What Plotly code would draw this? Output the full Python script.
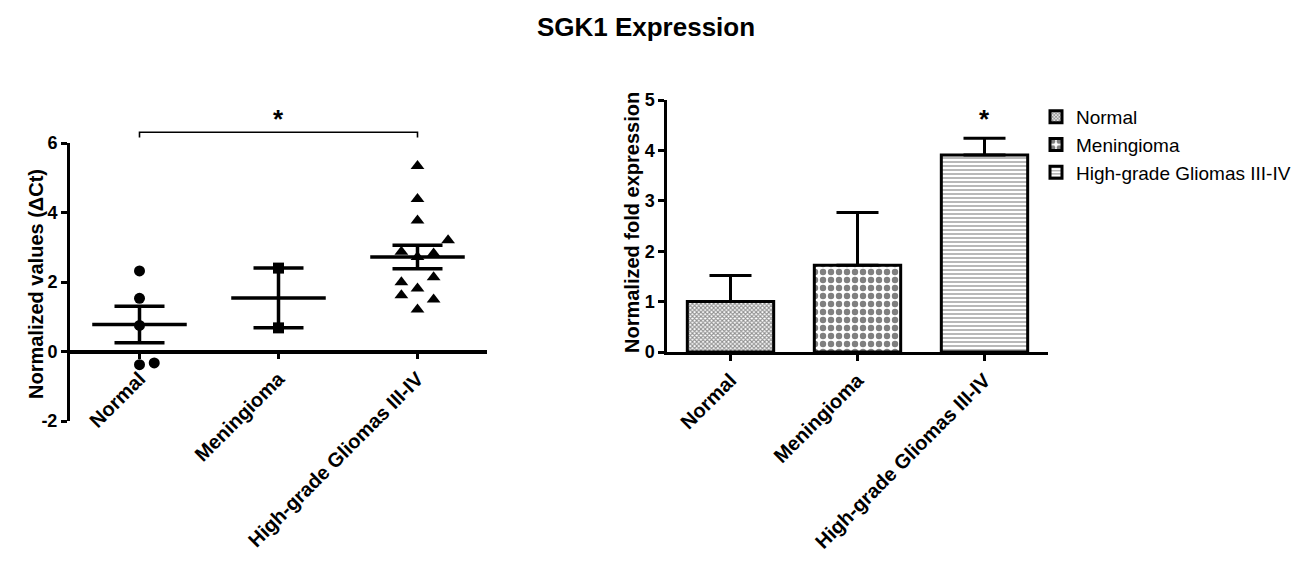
import numpy as np
import plotly.graph_objects as go

# ---------------- data ----------------
categories = ["Normal", "Meningioma", "High-grade Gliomas III-IV"]

# left panel: individual normalized ΔCt values per sample
normal_dct = [2.32, 1.53, 0.75, -0.38, -0.33]
meningioma_dct = [2.40, 0.68]
glioma_dct = [5.34, 4.39, 3.77, 3.20, 2.87, 2.82, 2.72, 2.14, 1.99, 1.81, 1.62, 1.50, 1.21]

# right panel: normalized fold expression (mean, upper error)
fold_mean = [1.00, 1.72, 3.91]
fold_err = [0.52, 1.05, 0.33]

y_ticks_left = [-2, 0, 2, 4, 6]
y_ticks_right = [0, 1, 2, 3, 4, 5]

# ---------------- layout helpers (positions / styles) ----------------
normal_jit = [0, 0, 0, 0, 0.106]
meningioma_jit = [0, 0]
glioma_jit = [0, 0, 0, 0.22, -0.116, 0.116, 0, 0.116, -0.116, 0, -0.116, 0.116, 0]

WIN_W, WIN_H = 1311, 563
OFF = 8  # default page body margin
W, H = WIN_W - OFF, WIN_H - OFF
FONT = "Arial, Liberation Sans, sans-serif"


def px_x(px):
    return (px - OFF) / W


def px_y(py):
    return 1 - (py - OFF) / H


xL_dom = [px_x(70), px_x(487)]
yL_dom = [px_y(421), px_y(143)]
xR_dom = [px_x(667), px_x(1048)]
yR_dom = [px_y(352), px_y(100)]
yL_range = [-2, 6]
x_range = [-0.5, 2.5]

# paper position of y=0 on left panel (x axis crosses there)
zero_pos = yL_dom[0] + (yL_dom[1] - yL_dom[0]) * (0 - yL_range[0]) / (yL_range[1] - yL_range[0])

groups = [normal_dct, meningioma_dct, glioma_dct]
jits = [normal_jit, meningioma_jit, glioma_jit]
symbols = ["circle", "square", "triangle-up"]
msizes = [11, 11, 12]

means = [float(np.mean(g)) for g in groups]
sems = [float(np.std(g, ddof=1) / np.sqrt(len(g))) for g in groups]

fig = go.Figure()

for i, (g, j, s, ms) in enumerate(zip(groups, jits, symbols, msizes)):
    fig.add_trace(go.Scatter(
        x=[i + d for d in j], y=g, mode="markers",
        marker=dict(symbol=s, size=ms, color="black", line=dict(width=0)),
        showlegend=False, xaxis="x", yaxis="y", cliponaxis=False,
    ))

# mean line + SEM whiskers
fig.add_trace(go.Scatter(
    x=[0, 1, 2], y=means, mode="markers",
    marker=dict(size=1, color="rgba(0,0,0,0)"),
    error_x=dict(type="constant", value=0.34, width=0, thickness=3.5, color="black", copy_ystyle=False),
    error_y=dict(type="data", array=sems, width=25, thickness=3.5, color="black"),
    showlegend=False, xaxis="x", yaxis="y", cliponaxis=False,
))

patterns = [
    dict(shape="x", size=3, solidity=0.6, fgcolor="#222222", bgcolor="white"),
    dict(shape=".", size=8, solidity=0.5, fgcolor="black", bgcolor="white"),
    dict(shape="-", size=4, solidity=0.35, fgcolor="#333333", bgcolor="white"),
]

for i, cat in enumerate(categories):
    fig.add_trace(go.Bar(
        x=[i], y=[fold_mean[i]], width=0.68, name=cat,
        marker=dict(color="white", line=dict(color="black", width=3), pattern=patterns[i]),
        error_y=dict(type="data", symmetric=False, array=[fold_err[i]], arrayminus=[0],
                     width=21, thickness=3, color="black"),
        xaxis="x2", yaxis="y2",
    ))

axis_common = dict(showgrid=False, zeroline=False, showline=True, linecolor="black",
                   ticks="outside", tickcolor="black", ticklen=6, tickwidth=2.5,
                   fixedrange=True, automargin=False)
yfont = dict(family=FONT, size=18, color="black", weight="bold")
xfont = dict(family=FONT, size=20, color="black", weight="bold")

fig.update_layout(
    width=W, height=H,
    margin=dict(l=0, r=0, t=0, b=0),
    paper_bgcolor="white", plot_bgcolor="rgba(0,0,0,0)",
    barmode="overlay",
    title=dict(text="<b>SGK1 Expression</b>", x=px_x(646), xanchor="center", y=px_y(27), yanchor="middle",
               font=dict(family=FONT, size=26, color="black")),
    xaxis=dict(**axis_common, domain=xL_dom, range=x_range, anchor="free", position=zero_pos,
               tickvals=[0, 1, 2], ticktext=categories, tickangle=-45, linewidth=3.5, tickfont=xfont),
    yaxis=dict(**axis_common, domain=yL_dom, range=yL_range, anchor="x", tickvals=y_ticks_left,
               ticktext=[str(v) for v in y_ticks_left], linewidth=3, tickfont=yfont),
    xaxis2=dict(**axis_common, domain=xR_dom, range=x_range, anchor="y2",
                tickvals=[0, 1, 2], ticktext=categories, tickangle=-45, linewidth=2.5, tickfont=xfont),
    yaxis2=dict(**axis_common, domain=yR_dom, range=[0, 5], anchor="x2", tickvals=y_ticks_right,
                ticktext=[str(v) for v in y_ticks_right], linewidth=2.5, tickfont=yfont),
    legend=dict(x=px_x(1036), y=px_y(98), xanchor="left", yanchor="top",
                font=dict(family=FONT, size=19, color="black"), bgcolor="rgba(0,0,0,0)",
                itemclick=False, itemdoubleclick=False),
    showlegend=True,
)


# significance bracket between Normal and Gliomas (left)
def xfrac(v):
    return (v - x_range[0]) / (x_range[1] - x_range[0])


def yfrac(v):
    return (v - yL_range[0]) / (yL_range[1] - yL_range[0])


x0, x1 = xfrac(0), xfrac(2)
yt, yb = yfrac(6.31), yfrac(6.16)
fig.add_shape(type="path", xref="x domain", yref="y domain",
              path=f"M {x0} {yb} L {x0} {yt} L {x1} {yt} L {x1} {yb}",
              line=dict(color="black", width=1.6))
fig.add_annotation(text="<b>*</b>", xref="x domain", yref="y domain", x=xfrac(1), y=yfrac(7.18),
                   showarrow=False, font=dict(family=FONT, size=26, color="black"))
fig.add_annotation(text="<b>*</b>", xref="x2", yref="y2", x=2, y=fold_mean[2] + fold_err[2],
                   yanchor="bottom", yshift=2, showarrow=False,
                   font=dict(family=FONT, size=26, color="black"))

# axis titles
fig.add_annotation(text="<b>Normalized values (ΔCt)</b>", xref="paper", yref="paper",
                   x=px_x(23), y=px_y(284), textangle=-90, showarrow=False,
                   font=dict(family=FONT, size=20, color="black"))
fig.add_annotation(text="<b>Normalized fold expression</b>", xref="paper", yref="paper",
                   x=px_x(632), y=px_y(223), textangle=-90, showarrow=False,
                   font=dict(family=FONT, size=20, color="black"))

fig.write_html("out.html")
